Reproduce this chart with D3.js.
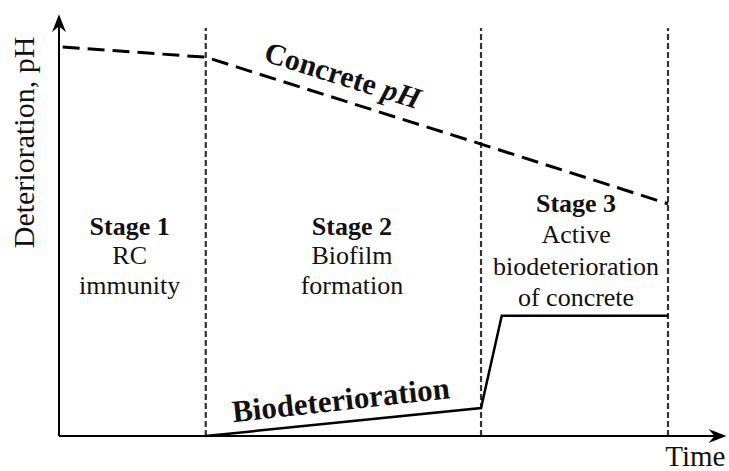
<!DOCTYPE html>
<html>
<head>
<meta charset="utf-8">
<script src="https://cdn.jsdelivr.net/npm/d3@7/dist/d3.min.js"></script>
<style>
  body { margin: 0; background: #fff; }
  svg { display: block; }
</style>
</head>
<body>
<div id="chart"></div>
<script>
// stage boundaries on the time axis (0..100)
var stageBounds = [24.1, 69.3, 100];
var stageCenters = [11.6, 48.1, 84.9];
var stageLabels = [
    ["Stage 1", "RC", "immunity"],
    ["Stage 2", "Biofilm", "formation"],
    ["Stage 3", "Active", "biodeterioration", "of concrete"]
];
var stageTop = [49.6, 49.6, 55.2];   // y of first label line (value units)

// concrete pH curve (dashed)
var phTime = [0.6, 24.1, 69.3, 100];
var phValue = [95.8, 93.3, 71.9, 57.2];

// biodeterioration curve
var bioTime = [24.1, 69.3, 72.7, 100];
var bioValue = [0, 6.9, 29.6, 29.6];

var serif = "'Liberation Serif', 'DejaVu Serif', 'Times New Roman', Times, serif";

var width = 729, height = 471;
var svg = d3.select("#chart").append("svg")
    .attr("width", width)
    .attr("height", height)
    .attr("font-family", serif);

var x = d3.scaleLinear().domain([0, 100]).range([59, 668]);
var y = d3.scaleLinear().domain([0, 100]).range([436, 30]);

// axis extents (beyond plotted data, ending in arrows)
var xAxisEnd = 109.6, yAxisEnd = 103.9;

// vertical dashed stage dividers
svg.selectAll(".divider")
    .data(stageBounds)
    .enter().append("line")
    .attr("class", "divider")
    .attr("x1", function (d) { return x(d); })
    .attr("x2", function (d) { return x(d); })
    .attr("y1", y(0))
    .attr("y2", y(100.5))
    .attr("stroke", "#333")
    .attr("stroke-width", 2.2)
    .attr("stroke-dasharray", "6,3");

// axes
svg.append("line")
    .attr("x1", x(0)).attr("x2", x(xAxisEnd) - 10)
    .attr("y1", y(0)).attr("y2", y(0))
    .attr("stroke", "#000").attr("stroke-width", 2);
svg.append("line")
    .attr("x1", x(0)).attr("x2", x(0))
    .attr("y1", y(0)).attr("y2", y(yAxisEnd) + 10)
    .attr("stroke", "#000").attr("stroke-width", 2);

var arrow = "M0,0 L-18,-7 L-12,0 L-18,7 Z";
svg.append("path")
    .attr("d", arrow)
    .attr("transform", "translate(" + x(xAxisEnd) + "," + y(0) + ")")
    .attr("fill", "#000");
svg.append("path")
    .attr("d", arrow)
    .attr("transform", "translate(" + x(0) + "," + y(yAxisEnd) + ") rotate(-90)")
    .attr("fill", "#000");

var line = d3.line()
    .x(function (d) { return x(d[0]); })
    .y(function (d) { return y(d[1]); });

// concrete pH
svg.append("path")
    .datum(d3.zip(phTime, phValue))
    .attr("d", line)
    .attr("fill", "none")
    .attr("stroke", "#000")
    .attr("stroke-width", 3)
    .attr("stroke-dasharray", "17,8");

// biodeterioration
svg.append("path")
    .datum(d3.zip(bioTime, bioValue))
    .attr("d", line)
    .attr("fill", "none")
    .attr("stroke", "#000")
    .attr("stroke-width", 2.5)
    .attr("stroke-linejoin", "miter");

// stage labels
stageLabels.forEach(function (lines, i) {
    var g = svg.append("text")
        .attr("text-anchor", "middle")
        .attr("font-family", serif)
        .attr("font-size", 26)
        .attr("fill", "#111");
    lines.forEach(function (t, j) {
        g.append("tspan")
            .attr("x", x(stageCenters[i]))
            .attr("y", y(stageTop[i]) + j * (i == 2 ? 31.5 : 29.5))
            .attr("font-weight", j == 0 ? "bold" : "normal")
            .text(t);
    });
});

// curve labels
var phLabel = svg.append("text")
    .attr("transform", "translate(" + x(33.4) + "," + y(92.4) + ") rotate(17.4)")
    .attr("font-family", serif)
    .attr("font-size", 30)
    .attr("font-weight", "bold")
    .attr("fill", "#111");
phLabel.append("tspan").text("Concrete ");
phLabel.append("tspan").attr("font-style", "italic").text("pH");

svg.append("text")
    .attr("transform", "translate(" + x(28.6) + "," + y(3.4) + ") rotate(-6.3)")
    .attr("font-family", serif)
    .attr("font-size", 31)
    .attr("font-weight", "bold")
    .attr("fill", "#111")
    .text("Biodeterioration");

// axis titles
svg.append("text")
    .attr("transform", "translate(34," + y(72.3) + ") rotate(-90)")
    .attr("text-anchor", "middle")
    .attr("font-family", serif)
    .attr("font-size", 30)
    .attr("fill", "#111")
    .text("Deterioration, pH");

svg.append("text")
    .attr("x", x(xAxisEnd) - 1)
    .attr("y", 466)
    .attr("text-anchor", "end")
    .attr("font-family", serif)
    .attr("font-size", 29)
    .attr("fill", "#111")
    .text("Time");
</script>
</body>
</html>
